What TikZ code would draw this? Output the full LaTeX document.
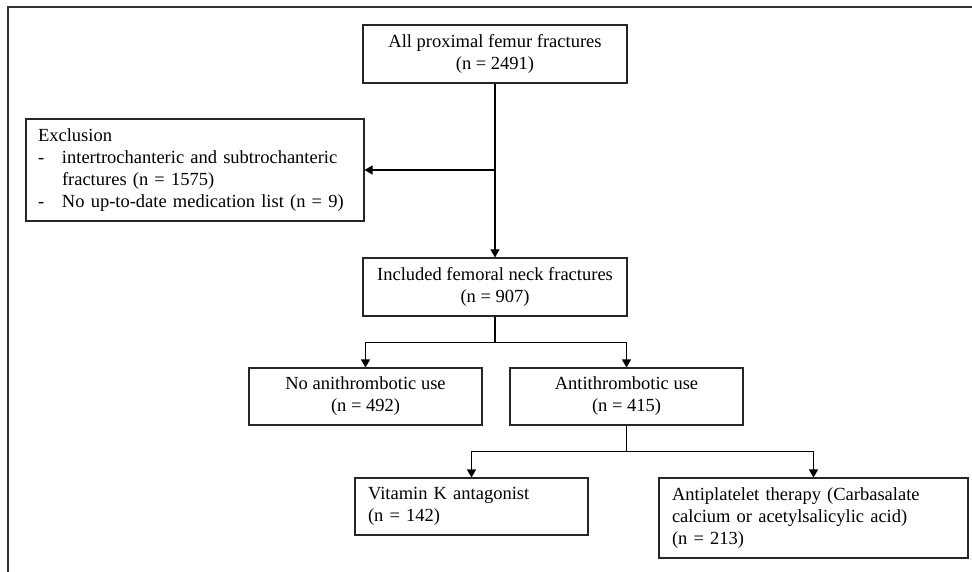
\documentclass[tikz,border=0pt]{standalone}
\usepackage{fontspec}
\setmainfont{Liberation Serif}
\usetikzlibrary{arrows.meta}

\begin{document}
\begin{tikzpicture}[x=1pt,y=-1pt,
    box/.style={draw,line width=1.1pt,black!85,text=black,inner sep=0pt,font=\fontsize{18.5}{22}\selectfont},
    cbox/.style={box,align=center},
    arr/.style={line width=1.1pt,-{Triangle[length=8pt,width=9pt]}}]
        \useasboundingbox (0,0) rectangle (972,572);
        \draw[line width=1.2pt,black!80] (8,572) -- (8,7) -- (972,7);
        \node[cbox,minimum width=264,minimum height=58](all)at(495,54){All proximal femur fractures\\(n = 2491)};
        \node[box,minimum width=338,minimum height=102,align=left,text width=314](excl)at(195,170){Exclusion\\\makebox[24pt][l]{-}intertrochanteric and subtrochanteric\\\hspace*{24pt}fractures (n = 1575)\\\makebox[24pt][l]{-}No up-to-date medication list (n = 9)};
        \node[cbox,minimum width=264,minimum height=58](incl)at(495,287){Included femoral neck fractures\\(n = 907)};
        \node[cbox,minimum width=233,minimum height=57](noanti)at(365.5,396.5){No anithrombotic use\\(n = 492)};
        \node[cbox,minimum width=233,minimum height=57](anti)at(626.5,396.5){Antithrombotic use\\(n = 415)};
        \node[box,minimum width=233,minimum height=57,align=left,text width=207](vka)at(471.5,506.5){Vitamin K antagonist\\(n = 142)};
        \node[box,minimum width=309,minimum height=80,align=left,text width=283](apt)at(813.5,518){Antiplatelet therapy (Carbasalate\\calcium or acetylsalicylic acid)\\(n = 213)};
        \draw[arr] (all)--(incl);
        \draw[arr] (all.south|-excl.east)--(excl.east);
        \draw[arr] (incl.south)--++(0,26)-|(noanti.north);
        \draw[arr] (incl.south)--++(0,26)-|(anti.north);
        \draw[arr] (anti.south)--++(0,26)-|(vka.north);
        \draw[arr] (anti.south)--++(0,26)-|(apt.north);
    \end{tikzpicture}
\end{document}
